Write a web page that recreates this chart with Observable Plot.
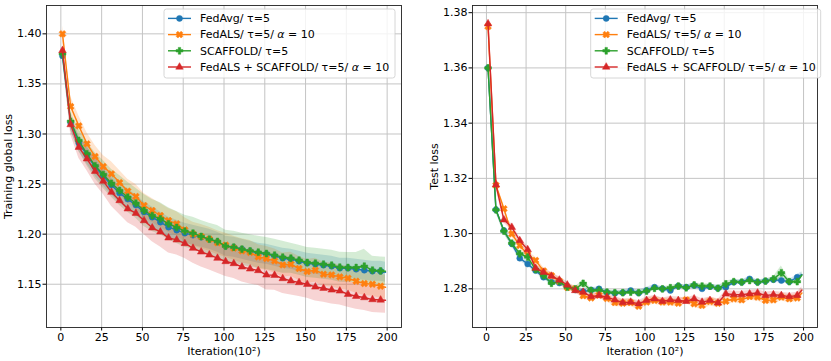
<!DOCTYPE html>
<html><head><meta charset="utf-8">
<script src="https://cdn.jsdelivr.net/npm/d3@7"></script>
<script src="https://cdn.jsdelivr.net/npm/@observablehq/plot@0.6"></script>
<style>
body{margin:0;background:#fff;}
#wrap{position:relative;width:831px;height:361px;background:#fff;}
#left{position:absolute;left:0;top:0;}
#right{position:absolute;left:415px;top:0;}
</style></head><body><div id="wrap"><div id="left"></div><div id="right"></div></div>
<script>
const iterations = [1,6,11,16,21,26,31,36,41,46,51,56,61,66,71,76,81,86,91,96,101,106,111,116,121,126,131,136,141,146,151,156,161,166,171,176,181,186,191,196,199];
const seriesNames = ["FedAvg", "FedALS", "SCAFFOLD", "FedALS + SCAFFOLD"];
const seriesColors = ["#1f77b4", "#ff7f0e", "#2ca02c", "#d62728"];
const legendLabels = [
  [["FedAvg/ τ=5", false]],
  [["FedALS/ τ=5/ ", false], ["α", true], [" = 10", false]],
  [["SCAFFOLD/ τ=5", false]],
  [["FedALS + SCAFFOLD/ τ=5/ ", false], ["α", true], [" = 10", false]]
];
const xTicks = [0,25,50,75,100,125,150,175,200];
const trainYTicks = [1.15,1.20,1.25,1.30,1.35,1.40];
const testYTicks = [1.28,1.30,1.32,1.34,1.36,1.38];

// Training global loss
const trainFedAvg = [1.378,1.311,1.291,1.279,1.267,1.258,1.249,1.241,1.235,1.229,1.222,1.217,1.212,1.207,1.204,1.201,1.199,1.197,1.195,1.192,1.188,1.187,1.185,1.183,1.181,1.180,1.178,1.176,1.175,1.173,1.171,1.170,1.169,1.168,1.166,1.166,1.165,1.164,1.163,1.163,1.162];
const trainFedALS = [1.400,1.3274,1.3081,1.2902,1.2775,1.2675,1.2602,1.2515,1.2429,1.2376,1.2286,1.2236,1.2186,1.2136,1.2103,1.2043,1.2000,1.1977,1.1950,1.1914,1.1890,1.1860,1.1833,1.1817,1.1773,1.1757,1.1733,1.1693,1.1700,1.1657,1.1627,1.1640,1.1600,1.1593,1.1573,1.1560,1.1530,1.1507,1.1500,1.1480,1.1470];
const trainSCAFFOLD = [1.380,1.3127,1.2935,1.2802,1.2682,1.2595,1.2508,1.2436,1.2369,1.2309,1.2236,1.2186,1.2153,1.2103,1.2067,1.2030,1.2010,1.1977,1.1950,1.1927,1.1880,1.1870,1.1850,1.1833,1.1820,1.1807,1.1790,1.1770,1.1760,1.1740,1.1717,1.1710,1.1700,1.1690,1.1670,1.1667,1.1667,1.1680,1.1640,1.1633,1.1630];
const trainFedALSScaffold = [1.3834,1.3094,1.2868,1.2752,1.2628,1.2529,1.2419,1.2336,1.2253,1.2209,1.2136,1.2063,1.2023,1.1963,1.1943,1.1907,1.1860,1.1823,1.1793,1.1760,1.1727,1.1707,1.1673,1.1653,1.1637,1.1593,1.1590,1.1557,1.1533,1.1517,1.1500,1.1473,1.1460,1.1443,1.1433,1.1400,1.1380,1.1367,1.1347,1.1343,1.1340];
const spreadTrainFedAvg = [0.004,0.007,0.008,0.009,0.009,0.010,0.010,0.010,0.010,0.010,0.010,0.010,0.010,0.010,0.010,0.010,0.010,0.010,0.010,0.010,0.010,0.010,0.010,0.010,0.010,0.010,0.010,0.010,0.010,0.010,0.010,0.010,0.010,0.010,0.010,0.010,0.010,0.010,0.010,0.010,0.010];
const spreadTrainFedALS = [0.008,0.010,0.010,0.011,0.011,0.011,0.012,0.012,0.012,0.012,0.012,0.012,0.012,0.012,0.012,0.012,0.012,0.012,0.012,0.012,0.012,0.012,0.012,0.012,0.012,0.012,0.012,0.012,0.012,0.012,0.012,0.012,0.012,0.012,0.012,0.012,0.012,0.012,0.012,0.012,0.012];
const spreadTrainSCAFFOLD = [0.005,0.009,0.011,0.012,0.013,0.014,0.014,0.015,0.015,0.015,0.016,0.016,0.016,0.016,0.016,0.016,0.016,0.016,0.016,0.016,0.016,0.016,0.016,0.016,0.016,0.016,0.016,0.016,0.015,0.015,0.015,0.015,0.015,0.015,0.015,0.015,0.015,0.017,0.014,0.014,0.014];
const spreadTrainFedALSScaffold = [0.006,0.010,0.011,0.012,0.013,0.013,0.014,0.014,0.014,0.014,0.014,0.014,0.015,0.015,0.015,0.015,0.015,0.015,0.015,0.015,0.015,0.015,0.015,0.015,0.015,0.015,0.015,0.015,0.014,0.014,0.014,0.014,0.014,0.014,0.014,0.013,0.013,0.013,0.013,0.013,0.013];

// Test loss
const testFedAvg = [1.3600,1.3086,1.3011,1.2963,1.2911,1.2890,1.2866,1.2842,1.2824,1.2821,1.2809,1.2796,1.2790,1.2796,1.2800,1.2787,1.2784,1.2786,1.2794,1.2785,1.2794,1.2806,1.2800,1.2794,1.2810,1.2806,1.2812,1.2800,1.2808,1.2802,1.2806,1.2824,1.2824,1.2836,1.2824,1.2828,1.2833,1.2830,1.2826,1.2842,1.2852];
const testFedALS = [1.3750,1.3175,1.3090,1.2999,1.2957,1.2924,1.2903,1.2865,1.2848,1.2828,1.2805,1.2800,1.2775,1.2767,1.2777,1.2765,1.2750,1.2748,1.2750,1.2737,1.2752,1.2758,1.2752,1.2752,1.2748,1.2760,1.2746,1.2740,1.2754,1.2748,1.2755,1.2764,1.2760,1.2772,1.2770,1.2758,1.2760,1.2770,1.2764,1.2767,1.2785];
const testSCAFFOLD = [1.3600,1.3086,1.3009,1.2965,1.2927,1.2915,1.2870,1.2848,1.2820,1.2826,1.2806,1.2800,1.2820,1.2794,1.2795,1.2788,1.2786,1.2786,1.2788,1.2786,1.2792,1.2802,1.2800,1.2804,1.2810,1.2804,1.2814,1.2810,1.2810,1.2802,1.2818,1.2826,1.2824,1.2830,1.2824,1.2828,1.2836,1.2858,1.2826,1.2826,1.2850];
const testFedALSScaffold = [1.3760,1.3177,1.3050,1.3023,1.2975,1.2942,1.2875,1.2860,1.2846,1.2832,1.2814,1.2794,1.2788,1.2772,1.2776,1.2770,1.2760,1.2750,1.2752,1.2746,1.2758,1.2764,1.2755,1.2760,1.2758,1.2755,1.2764,1.2752,1.2758,1.2749,1.2782,1.2779,1.2779,1.2782,1.2785,1.2776,1.2779,1.2776,1.2772,1.2776,1.2796];
const spreadTestFedAvg = [0.0010,0.0010,0.0010,0.0010,0.0010,0.0008,0.0008,0.0008,0.0008,0.0008,0.0008,0.0008,0.0008,0.0008,0.0008,0.0008,0.0008,0.0008,0.0008,0.0010,0.0012,0.0010,0.0008,0.0010,0.0008,0.0008,0.0010,0.0008,0.0008,0.0012,0.0010,0.0008,0.0008,0.0010,0.0008,0.0008,0.0008,0.0010,0.0008,0.0010,0.0010];
const spreadTestFedALS = [0.0010,0.0012,0.0012,0.0012,0.0012,0.0012,0.0012,0.0012,0.0012,0.0012,0.0012,0.0012,0.0012,0.0012,0.0012,0.0012,0.0014,0.0014,0.0014,0.0014,0.0014,0.0014,0.0014,0.0014,0.0014,0.0014,0.0014,0.0016,0.0016,0.0016,0.0014,0.0014,0.0014,0.0014,0.0014,0.0014,0.0014,0.0014,0.0014,0.0014,0.0014];
const spreadTestSCAFFOLD = [0.0010,0.0010,0.0010,0.0010,0.0010,0.0008,0.0008,0.0008,0.0008,0.0008,0.0008,0.0008,0.0012,0.0008,0.0008,0.0008,0.0008,0.0008,0.0008,0.0008,0.0008,0.0008,0.0008,0.0008,0.0008,0.0008,0.0008,0.0008,0.0008,0.0008,0.0010,0.0008,0.0008,0.0008,0.0008,0.0008,0.0008,0.0025,0.0008,0.0010,0.0010];
const spreadTestFedALSScaffold = [0.0010,0.0012,0.0012,0.0012,0.0012,0.0012,0.0012,0.0012,0.0012,0.0012,0.0012,0.0012,0.0012,0.0012,0.0012,0.0012,0.0012,0.0012,0.0012,0.0012,0.0012,0.0012,0.0012,0.0012,0.0012,0.0012,0.0012,0.0012,0.0012,0.0012,0.0012,0.0012,0.0012,0.0012,0.0012,0.0012,0.0012,0.0012,0.0012,0.0012,0.0012];

// marker shapes (matplotlib o, X, P, ^)
function polySymbol(pts) {
  return { draw(ctx, size) { const s = Math.sqrt(size / Math.PI);
    pts.forEach(([a, b], i) => i ? ctx.lineTo(a * s, b * s) : ctx.moveTo(a * s, b * s)); ctx.closePath(); } };
}
const w = 0.36;
const plusPts = [[-w,-1],[w,-1],[w,-w],[1,-w],[1,w],[w,w],[w,1],[-w,1],[-w,w],[-1,w],[-1,-w],[-w,-w]];
const c45 = Math.SQRT1_2;
const xPts = plusPts.map(([a, b]) => [(a - b) * c45 * 1.05, (a + b) * c45 * 1.05]);
const symbols = [d3.symbolCircle, polySymbol(xPts), polySymbol(plusPts), d3.symbolTriangle];
const symbolR = [3, 3.4, 3.4, 2.8];

function rowsFor(valueArrays, spreadArrays) {
  const rows = [];
  valueArrays.forEach((vals, s) => vals.forEach((v, i) => rows.push({
    series: seriesNames[s], t: iterations[i], y: v,
    lo: v - spreadArrays[s][i], hi: v + spreadArrays[s][i], marker: iterations[i] % 5 === 1
  })));
  return rows;
}

function panel({rows, width, marginLeft, yDomain, yTicks, yLabel, xLabel}) {
  const marks = [
    Plot.gridX(xTicks, {stroke: "#c4c4c4", strokeOpacity: 1, strokeWidth: 1}),
    Plot.gridY(yTicks, {stroke: "#c4c4c4", strokeOpacity: 1, strokeWidth: 1}),
    Plot.areaY(rows, {x: "t", y1: "lo", y2: "hi", z: "series", fill: "series", fillOpacity: 0.2})
  ];
  seriesNames.forEach((name, s) => {
    const sub = rows.filter(d => d.series === name);
    marks.push(Plot.lineY(sub, {x: "t", y: "y", stroke: seriesColors[s], strokeWidth: 1.4}));
    marks.push(Plot.dot(sub.filter(d => d.marker), {x: "t", y: "y", symbol: symbols[s], r: symbolR[s], fill: seriesColors[s], stroke: seriesColors[s], strokeWidth: 0.5}));
  });
  marks.push(
    Plot.axisX(xTicks, {tickSize: 3.5, tickPadding: 2, label: xLabel, labelAnchor: "center", labelOffset: 27, labelArrow: "none"}),
    Plot.axisY(yTicks, {tickSize: 3.5, tickPadding: 1.5, tickFormat: d3.format(".2f"), label: yLabel, labelAnchor: "center", labelOffset: 42, labelArrow: "none"}),
    Plot.frame({stroke: "#222", strokeWidth: 0.9})
  );
  return Plot.plot({
    width, height: 361,
    marginLeft, marginRight: 14, marginTop: 5, marginBottom: 34,
    style: {fontFamily: "DejaVu Sans, sans-serif", fontSize: "11px", color: "#000", background: "white", overflow: "visible"},
    x: {domain: [-8.8, 208.8]},
    y: {domain: yDomain},
    color: {domain: seriesNames, range: seriesColors},
    marks
  });
}

function addLegend(svg, box) {
  const g = d3.select(svg).append("g").attr("font-family", "DejaVu Sans, sans-serif").attr("font-size", 11).attr("text-anchor", "start");
  g.append("rect").attr("x", box.x).attr("y", box.y).attr("width", box.w).attr("height", box.h)
    .attr("rx", 2.5).attr("fill", "white").attr("fill-opacity", 0.8).attr("stroke", "#cccccc").attr("stroke-width", 0.8);
  seriesNames.forEach((name, i) => {
    const cy = box.y + 9.4 + i * 16.2;
    g.append("line").attr("x1", box.x + 4).attr("x2", box.x + 27).attr("y1", cy).attr("y2", cy)
      .attr("stroke", seriesColors[i]).attr("stroke-width", 1.4);
    g.append("path").attr("d", d3.symbol().type(symbols[i]).size(Math.PI * symbolR[i] * symbolR[i])())
      .attr("transform", `translate(${box.x + 15.5},${cy})`).attr("fill", seriesColors[i]).attr("stroke", seriesColors[i]).attr("stroke-width", 0.5);
    const t = g.append("text").attr("x", box.x + 36).attr("y", cy).attr("dy", "0.35em").attr("fill", "#000").attr("text-anchor", "start");
    legendLabels[i].forEach(([str, it]) => { const sp = t.append("tspan").text(str); if (it) sp.attr("font-style", "italic"); });
  });
}

const left = panel({
  rows: rowsFor([trainFedAvg, trainFedALS, trainSCAFFOLD, trainFedALSScaffold], [spreadTrainFedAvg, spreadTrainFedALS, spreadTrainSCAFFOLD, spreadTrainFedALSScaffold]),
  width: 415, marginLeft: 46, yDomain: [1.1068, 1.4283], yTicks: trainYTicks,
  yLabel: "Training global loss", xLabel: "Iteration(10²)"
});
addLegend(left, {x: 164, y: 9, w: 231, h: 69});
document.getElementById("left").appendChild(left);

const right = panel({
  rows: rowsFor([testFedAvg, testFedALS, testSCAFFOLD, testFedALSScaffold], [spreadTestFedAvg, spreadTestFedALS, spreadTestSCAFFOLD, spreadTestFedALSScaffold]),
  width: 416, marginLeft: 57, yDomain: [1.266, 1.3826], yTicks: testYTicks,
  yLabel: "Test loss", xLabel: "Iteration (10²)"
});
addLegend(right, {x: 175.7, y: 9, w: 230, h: 69});
document.getElementById("right").appendChild(right);
</script></body></html>
